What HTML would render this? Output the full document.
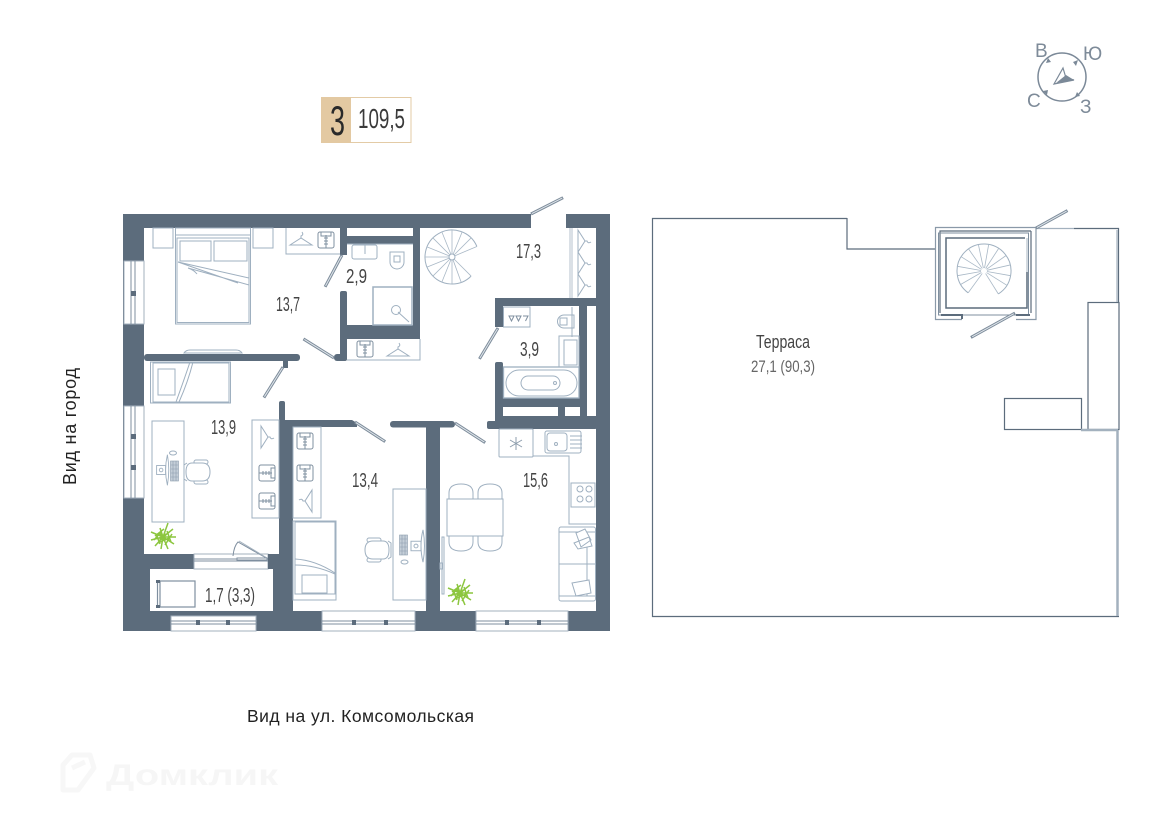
<!DOCTYPE html>
<html lang="ru"><head><meta charset="utf-8"><title>План квартиры</title>
<style>html,body{margin:0;padding:0;background:#fff}svg{display:block}text{font-family:"Liberation Sans",sans-serif}</style></head>
<body>
<svg xmlns="http://www.w3.org/2000/svg" width="1170" height="828" viewBox="0 0 1170 828">
<defs>
<g id="hanger" fill="none" stroke="#9fb0c0" stroke-width="1"><path d="M-11 5 L0 -2 L11 5 Z"/><path d="M0 -2 V-4 Q3 -5 1 -8"/></g>
<g id="shirt" fill="#fff" stroke="#7f90a0" stroke-width="1"><rect x="-8" y="-8" width="16" height="16" rx="2"/><rect x="-5" y="-8" width="10" height="4" /><path d="M0 -5V8M-2 -2H2M-2 1H2M-2 4H2"/></g>
<g id="chair" fill="#fff" stroke="#9fb0c0" stroke-width="1"><rect x="-11" y="-12" width="14" height="4" rx="2"/><rect x="-11" y="8" width="14" height="4" rx="2"/><path d="M10 -9 L13 -7 V7 L10 9"/><path d="M-13 0 Q-13 -9 -5 -9 H5 Q11 -9 11 0 Q11 9 5 9 H-5 Q-13 9 -13 0Z"/></g>
<g id="mon" fill="none" stroke="#9fb0c0" stroke-width="1"><path d="M6 -17 Q2 0 6 17 Q9 0 6 -17Z"/><rect x="-6" y="-5" width="10" height="10"/><circle cx="-1" cy="0" r="2"/></g>
<g id="kb" fill="#c4ced8" stroke="#8d9dad" stroke-width=".6"><rect x="-4" y="-10" width="8" height="20"/><path d="M-4 -6H4M-4 -2H4M-4 2H4M-4 6H4M-1.500 -10V10M1.500 -10V10"/></g>
<g id="plant" fill="none" stroke="#8cc63f" stroke-width="1.500"><path d="M0 0L-12 -5M0 0L-12 3M0 0L-8 9M0 0L-2 12M0 0L5 12M0 0L11 7M0 0L13 0M0 0L10 -8M0 0L5 -14M0 0L-3 -9M-7 -3L-3 7M4 -6L8 5M-5 6L6 1M-8 -1L1 -8M-9 3L-2 -5M2 8L9 -3"/><path d="M-3 -3L3 3M3 -3L-3 3" stroke-width="2.500"/></g>
<g id="door"><line x1="0" y1="0" x2="36" y2="0" stroke="#7d8c9b" stroke-width="3"/><line x1="1" y1="0" x2="35" y2="0" stroke="#dfe5ea" stroke-width="1"/></g>
<g id="tread" stroke="#a9b8c6" stroke-width=".8"><line x1="3" y1="0" x2="27" y2="0"/></g>
</defs>

<!-- Badge -->
<rect x="321.500" y="97.500" width="89.500" height="45" fill="#fff" stroke="#e3cba6" stroke-width="1"/>
<rect x="321" y="97" width="30" height="46" fill="#e3c9a2"/>
<text x="330" y="135" font-size="42" textLength="15" lengthAdjust="spacingAndGlyphs" fill="#2a2a2a">3</text>
<text x="358" y="128" font-size="28" textLength="47" lengthAdjust="spacingAndGlyphs" fill="#3a3a3a">109,5</text>

<!-- Compass -->
<circle cx="1062" cy="77" r="24" fill="none" stroke="#7b8998" stroke-width="1.500"/>
<path d="M1054 84 L1063 68 L1066 78 L1074 80 Z" fill="#fff" stroke="#7b8998" stroke-width="1.200"/>
<path d="M1056 83 L1066 75 L1074 80 Z" fill="#7b8998"/>
<path d="M1048 58l3 4 -5 1zM1078 60l-5 2 3 4zM1043 91l5 -1 -1 5zM1077 92l-2 5 5 -1z" fill="#7b8998"/>
<g fill="#7e8b99" font-size="19"><text x="1035" y="57">В</text><text x="1083" y="60">Ю</text><text x="1027" y="107">С</text><text x="1080" y="113">З</text></g>

<!-- Walls -->
<g fill="#5c6c7c">
<path d="M123 214H531V228H144V631H123Z"/>
<path d="M566 214H610V631H123V611H596V228H566Z"/>
<rect x="144" y="554" width="50" height="15"/>
<rect x="144" y="569" width="6" height="47"/>
<rect x="150" y="616" width="21" height="15"/>
<rect x="268" y="554" width="25" height="15"/>
<rect x="273" y="569" width="20" height="62"/>
<rect x="279" y="420" width="14" height="135"/>
<rect x="279" y="401" width="6" height="22" rx="2"/>
<path d="M285 420H352L357 423V427H293V430H285Z"/>
<rect x="390" y="421" width="65" height="6.500" rx="3"/>
<rect x="426" y="421" width="14" height="190"/>
<rect x="487" y="421" width="110" height="8" rx="2"/>
<rect x="144" y="354" width="156" height="7" rx="3"/>
<rect x="334" y="354" width="13" height="7" rx="3"/>
<rect x="340" y="228" width="7" height="27"/>
<rect x="340" y="291" width="7" height="70" rx="2"/>
<rect x="347" y="236" width="73" height="8"/>
<rect x="347" y="325" width="73" height="14"/>
<rect x="413" y="228" width="7" height="111"/>
<rect x="495" y="298" width="101" height="8"/>
<rect x="495" y="298" width="8" height="29"/>
<rect x="495" y="362" width="8" height="60" rx="2"/>
<rect x="503" y="398" width="76" height="9"/>
<rect x="579" y="306" width="8" height="115"/>
<rect x="495" y="416" width="101" height="6"/>
<rect x="558" y="407" width="7" height="10"/>
<rect x="580" y="407" width="8" height="10"/>
<rect x="283" y="361" width="5" height="7" />
</g>
<g fill="#fff"><rect x="347" y="228" width="66" height="8"/><rect x="503" y="407" width="55" height="9"/><rect x="565" y="407" width="15" height="9"/><rect x="587" y="306" width="9" height="110"/></g>

<!-- Windows -->
<g fill="#fff" stroke="#a3b1be" stroke-width="1">
<rect x="124" y="261" width="20" height="63"/><rect x="124" y="406" width="20" height="92"/>
<rect x="194" y="554" width="74" height="15"/>
<rect x="171" y="616" width="85" height="15"/>
<rect x="322" y="611" width="93" height="20"/>
<rect x="476" y="611" width="92" height="20"/>
</g>
<g stroke="#7f8f9f" stroke-width="1" fill="none">
<path d="M131 261V324M135 261V324M131 406V498M135 406V498"/>
<path d="M194 559H268M194 561H268M171 621H256M171 624H256M322 621H415M322 624H415M476 621H568M476 624H568"/>
</g>
<g fill="#5c6c7c"><rect x="131" y="291" width="5" height="5"/><rect x="131" y="434" width="5" height="5"/><rect x="131" y="465" width="5" height="5"/><rect x="196" y="620" width="4" height="5"/><rect x="226" y="620" width="4" height="5"/><rect x="352" y="620" width="4" height="5"/><rect x="384" y="620" width="4" height="5"/><rect x="505" y="620" width="4" height="5"/><rect x="537" y="620" width="4" height="5"/></g>

<!-- Doors -->
<use href="#door" transform="translate(531 214) rotate(-27)"/>
<use href="#door" transform="translate(342 255) rotate(118)"/>
<use href="#door" transform="translate(334 358) rotate(212)"/>
<use href="#door" transform="translate(283 367) rotate(122)"/>
<use href="#door" transform="translate(355 422) rotate(33)"/>
<use href="#door" transform="translate(455 423) rotate(33)"/>
<use href="#door" transform="translate(498 328) rotate(121)"/>

<!-- Bedroom furniture -->
<g fill="none" stroke="#9fb0c0" stroke-width="1">
<rect x="153" y="228" width="20" height="20"/><rect x="253" y="228" width="20" height="20"/>
<rect x="175.500" y="228" width="75" height="96"/><rect x="177" y="238" width="72" height="84.500"/>
<path d="M175 235H250"/>
<rect x="180" y="241" width="31" height="20"/><rect x="214" y="241" width="33" height="20"/>
<path d="M178 262 L249 278 L249 285 L188 268 Q194 270 197 274M178 262 L238 283"/>
<path d="M286 228V254H340"/>
<use href="#hanger" transform="translate(301 240)"/>
<use href="#shirt" transform="translate(326 240)"/>
<path d="M184 353 Q186 350 190 350 H236 Q240 350 242 353Z"/>
<rect x="150.500" y="362" width="80" height="41"/><rect x="153" y="363" width="76" height="39"/>
<rect x="158" y="369" width="17" height="26"/>
<path d="M190 362 Q184 380 176 402M193 362 Q188 382 179 402"/>
</g>

<!-- WC 2.9 -->
<g fill="none" stroke="#9fb0c0" stroke-width="1">
<path d="M347 244H413"/><rect x="352" y="245" width="25" height="14" rx="2"/><path d="M365 245V254"/>
<path d="M390 252h14v10a7 7 0 0 1 -14 0z"/><rect x="394" y="256" width="6" height="6"/>
<rect x="373" y="287" width="39" height="38" stroke-width="1.500"/><circle cx="396" cy="310" r="4.500"/><path d="M398 312L409 322"/>
<path d="M347 360H420V339"/>
<use href="#shirt" transform="translate(365 349)"/>
<use href="#hanger" transform="translate(398 351)"/>
</g>

<!-- Stairs 1 -->
<path d="M471.100 276.100 A27 27 0 1 1 476.900 246.500" fill="none" stroke="#9fb0c0" stroke-width="1"/>
<g transform="translate(452 257)">
<use href="#tread" transform="rotate(45)"/><use href="#tread" transform="rotate(70)"/><use href="#tread" transform="rotate(90)"/><use href="#tread" transform="rotate(112)"/><use href="#tread" transform="rotate(135)"/><use href="#tread" transform="rotate(158)"/><use href="#tread" transform="rotate(180)"/><use href="#tread" transform="rotate(202)"/><use href="#tread" transform="rotate(225)"/><use href="#tread" transform="rotate(248)"/><use href="#tread" transform="rotate(270)"/><use href="#tread" transform="rotate(292)"/><use href="#tread" transform="rotate(315)"/><use href="#tread" transform="rotate(337)"/>
<circle r="3" fill="#fff" stroke="#9fb0c0"/>
</g>

<!-- Closet top right -->
<g fill="none" stroke="#b6c2cd" stroke-width="1"><path d="M570 228V298M572 228V298"/></g>
<use href="#hanger" transform="translate(583 241) rotate(90)"/>
<use href="#hanger" transform="translate(583 263) rotate(90)"/>
<use href="#hanger" transform="translate(583 285) rotate(90)"/>

<!-- Bath 3.9 -->
<g fill="none" stroke="#9fb0c0" stroke-width="1">
<rect x="503.500" y="307" width="26.500" height="20"/>
<path d="M509 316h5l-2.500 5zM516 316h5l-2.500 5zM523 316h5l-2.500 5" stroke="#7f8f9f"/>
<path d="M574 315h-10a6 6 0 0 0 0 13h10z"/><rect x="560" y="318" width="7" height="7"/>
<path d="M572 307V337"/>
<rect x="559" y="336" width="20" height="31"/><rect x="564" y="340" width="13" height="25"/>
<rect x="503.500" y="367" width="75.500" height="31" stroke-width="1.300"/>
<rect x="506" y="370" width="71" height="26" rx="13"/><rect x="521" y="376" width="39" height="14" rx="7"/>
<circle cx="555" cy="383" r="1.500"/>
</g>

<!-- 13.9 room -->
<g fill="none" stroke="#9fb0c0" stroke-width="1">
<rect x="152" y="421" width="32" height="101"/>
<rect x="252" y="420" width="27" height="98"/>
<ellipse cx="173" cy="453" rx="3.500" ry="2"/>
</g>
<use href="#hanger" transform="translate(266 437) rotate(90)"/>
<use href="#shirt" transform="translate(267 473) rotate(90)"/>
<use href="#shirt" transform="translate(267 501) rotate(90)"/>
<use href="#mon" transform="translate(162 470) scale(.9) rotate(0)"/>
<use href="#kb" transform="translate(174.500 471)"/>
<use href="#chair" transform="translate(197 472) scale(-1 1)"/>
<use href="#plant" transform="translate(163 537)"/>

<!-- Balcony door -->
<g fill="none" stroke="#7f8f9f" stroke-width="1">
<path d="M233 556 Q234 546 238 542 L268 559"/><path d="M239 541L267 558" stroke="#a3b1be"/>
<rect x="237" y="558" width="30" height="2" fill="#fff"/>
</g>
<rect x="268" y="554" width="5" height="15" fill="#5c6c7c"/>

<!-- Lounger -->
<g fill="none" stroke="#7f8f9f" stroke-width="1.200"><rect x="160" y="581" width="35" height="26"/><path d="M157.500 582V607"/></g>
<g fill="#5c6c7c"><rect x="156" y="580" width="4" height="3"/><rect x="156" y="605" width="4" height="3"/></g>

<!-- 13.4 room -->
<g fill="none" stroke="#9fb0c0" stroke-width="1">
<rect x="293" y="427" width="28" height="91"/>
<rect x="293" y="521" width="43" height="79"/><rect x="295" y="522" width="40" height="72"/>
<path d="M295 559 Q315 560 335 573M295 565 Q315 565 335 574"/>
<rect x="302" y="575" width="25" height="18"/>
<rect x="393" y="489" width="33" height="111"/>
<ellipse cx="404.500" cy="562" rx="3.500" ry="2"/>
</g>
<use href="#shirt" transform="translate(305 441)"/>
<use href="#shirt" transform="translate(305 473)"/>
<use href="#hanger" transform="translate(307 501) rotate(-90)"/>
<use href="#mon" transform="translate(417 546) scale(1 .95)"/>
<use href="#kb" transform="translate(403.500 545)"/>
<use href="#chair" transform="translate(378 550)"/>

<!-- 15.6 room -->
<g fill="none" stroke="#9fb0c0" stroke-width="1">
<path d="M449 499V493Q449 484 461 484Q473 484 473 493V499M478 499V493Q478 484 490 484Q502 484 502 493V499"/>
<path d="M449 536V542Q449 551 461 551Q473 551 473 542V536M478 536V542Q478 551 490 551Q502 551 502 542V536"/>
<rect x="447" y="499" width="56" height="37" fill="#fff"/>
<rect x="442" y="537" width="2" height="57"/>
<rect x="440" y="563" width="2.500" height="6"/>
<rect x="499" y="429" width="34" height="28" rx="1"/>
<path d="M516 437V450M510 440L522 447M522 440L510 447" stroke="#8d9dad"/>
<path d="M533 456H569V524H596M533 429V456"/>
<rect x="545" y="431" width="36" height="22" rx="2"/>
<rect x="547" y="433" width="20" height="18" rx="3"/>
<circle cx="556" cy="444" r="1.500"/>
<path d="M570 436H582M570 440H582M570 444H582M570 448H582"/>
<rect x="571" y="483" width="24" height="24"/>
<circle cx="580" cy="489" r="3"/><circle cx="589" cy="489" r="3"/><circle cx="580" cy="499" r="3"/><circle cx="589" cy="499" r="3"/>
<rect x="559" y="527" width="36.500" height="74" rx="2"/>
<path d="M559 532H596M559 564H596M587 532V596M559 596H596"/>
<path d="M576 533L585 529L591 540L581 547ZM574 543L589 537L592 546L578 549Z" fill="#fff"/>
<path d="M572 583L589 580L591 593L576 596Z" fill="#fff"/>
</g>
<use href="#plant" transform="translate(460 593)"/>

<!-- Terrace -->
<g fill="none" stroke="#5c6c7c" stroke-width="1.200">
<path d="M847 218.500H652.500V616.500H1119"/>
<path d="M847 218V249H935"/>
<rect x="1088" y="302.500" width="31" height="127"/>
<rect x="1004.500" y="398.500" width="77" height="31"/>
<path d="M1074 228.500H1118.500V302"/>
</g>
<g fill="none" stroke="#a3b1be" stroke-width="1.200">
<path d="M1036 228.500H1074"/>
<path d="M1117 230V302"/>
<path d="M1081 430H1118M1117.500 430V616" stroke-width="2.500"/>
</g>
<!-- Stair box -->
<g fill="none">
<path d="M1036 227.500H935.500V319.500H962" stroke="#8a99a8" stroke-width="1.200"/>
<path d="M1036 227V319.500H1016" stroke="#8a99a8" stroke-width="1.200"/>
<path d="M1031 231H940V313M1031 231V313" stroke="#5c6c7c" stroke-width="1.200"/>
<rect x="938.500" y="233" width="90" height="82" stroke="#7f8f9f" stroke-width="1"/>
<path d="M1025 238H946V308H1027V272" stroke="#5c6c7c" stroke-width="1.500"/>
<path d="M941 315H962V319M1016 315H1030" stroke="#5c6c7c" stroke-width="2"/>
<path d="M1027 272V238" stroke="#b5c0ca" stroke-width="1.200"/>
</g>
<use href="#door" transform="translate(1036 228) rotate(-29)"/>
<use href="#door" transform="translate(1015 313) rotate(151) scale(1.400 1)"/>
<path d="M968.100 292.800 A27 27 0 1 1 998.300 293.900" fill="none" stroke="#9fb0c0" stroke-width="1"/>
<g transform="translate(984 271)">
<use href="#tread" transform="rotate(58)"/><use href="#tread" transform="rotate(126)"/><use href="#tread" transform="rotate(150)"/><use href="#tread" transform="rotate(170)"/><use href="#tread" transform="rotate(190)"/><use href="#tread" transform="rotate(212)"/><use href="#tread" transform="rotate(235)"/><use href="#tread" transform="rotate(258)"/><use href="#tread" transform="rotate(280)"/><use href="#tread" transform="rotate(303)"/><use href="#tread" transform="rotate(325)"/><use href="#tread" transform="rotate(347)"/><use href="#tread" transform="rotate(10)"/><use href="#tread" transform="rotate(32)"/>
</g>

<!-- Labels -->
<g fill="#444" font-size="20">
<text x="276" y="311" textLength="24" lengthAdjust="spacingAndGlyphs">13,7</text>
<text x="346" y="283" textLength="21" lengthAdjust="spacingAndGlyphs">2,9</text>
<text x="516" y="258" textLength="25" lengthAdjust="spacingAndGlyphs">17,3</text>
<text x="520" y="356" textLength="19" lengthAdjust="spacingAndGlyphs">3,9</text>
<text x="211" y="434" textLength="25" lengthAdjust="spacingAndGlyphs">13,9</text>
<text x="352" y="487" textLength="26" lengthAdjust="spacingAndGlyphs">13,4</text>
<text x="523" y="487" textLength="25" lengthAdjust="spacingAndGlyphs">15,6</text>
<text x="205" y="602" textLength="50" lengthAdjust="spacingAndGlyphs">1,7 (3,3)</text>
<text x="756" y="348" font-size="18" textLength="54" lengthAdjust="spacingAndGlyphs">Терраса</text>
<text x="751" y="372" font-size="17" fill="#666" textLength="64" lengthAdjust="spacingAndGlyphs">27,1 (90,3)</text>
</g>
<text transform="translate(76 485) rotate(-90)" font-size="18" fill="#222" textLength="117">Вид на город</text>
<text x="247" y="722" font-size="17.500" fill="#222" textLength="227">Вид на ул. Комсомольская</text>

<!-- Watermark -->
<g fill="none" stroke="#f7f7f7" stroke-width="5" stroke-linejoin="round"><path d="M63 790V765L72 755L90 755L94 768L78 790Z M72 768L85 762"/></g>
<text x="106" y="785" font-size="30" font-weight="bold" fill="#f6f6f6" textLength="172" lengthAdjust="spacingAndGlyphs">Домклик</text>
</svg>
</body></html>
